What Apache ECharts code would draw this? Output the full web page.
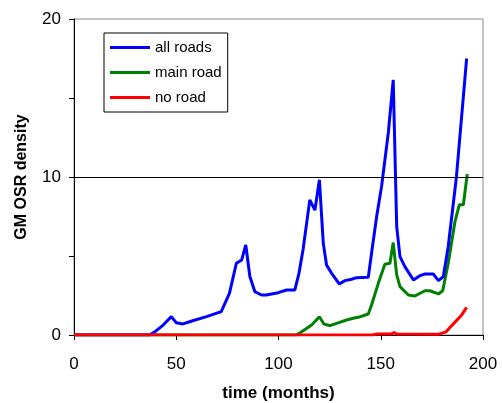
<!DOCTYPE html>
<html>
<head>
<meta charset="utf-8">
<script src="https://cdn.jsdelivr.net/npm/echarts@6/dist/echarts.min.js"></script>
<style>
  html, body { margin: 0; padding: 0; background: #fff; }
  #chart { width: 502px; height: 403px; }
</style>
</head>
<body>
<div id="chart"></div>
<script>
// values (months, density)
const allRoadsT = [0, 37, 39.5, 43.6, 47.6, 50, 53.3, 58, 64.8, 72, 76, 79.4, 82, 84, 86, 88.4, 91.7, 94, 99.8, 104, 108, 110, 112, 115.3, 117.8, 120, 121.9, 123.5, 126, 129.7, 132.5, 135.7, 138.2, 143.9, 145.5, 148, 150.4, 153.7, 156.1, 157.8, 159.4, 161.8, 166, 168.9, 171.6, 175.7, 178.2, 180.6, 183, 187, 192]
const allRoadsV = [0, 0, 0.2, 0.63, 1.16, 0.78, 0.7, 0.9, 1.16, 1.48, 2.64, 4.54, 4.75, 5.7, 3.7, 2.75, 2.53, 2.53, 2.68, 2.85, 2.85, 3.9, 5.4, 8.55, 7.9, 9.82, 5.8, 4.43, 3.9, 3.23, 3.44, 3.53, 3.63, 3.65, 5.17, 7.5, 9.4, 12.8, 16.15, 6.86, 4.96, 4.33, 3.48, 3.74, 3.86, 3.86, 3.44, 3.7, 5.6, 10, 17.5]

const mainRoadT = [0, 108.8, 111.3, 116.2, 120, 122.2, 125.1, 128.4, 133.3, 136.5, 139, 143.9, 145.5, 148.8, 152, 154.5, 156.1, 157.8, 159.4, 163.5, 166.7, 171.6, 174, 178.2, 180.3, 183, 186.3, 188.4, 190.4, 192.3]
const mainRoadV = [0, 0, 0.2, 0.63, 1.16, 0.7, 0.59, 0.74, 0.95, 1.06, 1.12, 1.33, 1.9, 3.27, 4.48, 4.54, 5.85, 3.8, 3.06, 2.53, 2.47, 2.8, 2.8, 2.6, 2.8, 4.54, 7.18, 8.24, 8.24, 10.18]

const noRoadT = [0, 146, 148, 155, 156.5, 158, 178, 182, 184, 189.6, 192]
const noRoadV = [0, 0, 0.06, 0.06, 0.15, 0.06, 0.04, 0.2, 0.5, 1.27, 1.75]

const seriesNames = ['all roads', 'main road', 'no road']
const seriesColors = ['#0000ff', '#008000', '#ff0000']

const pairs = (t, v) => t.map((x, i) => [x, v[i]])

const chart = echarts.init(document.getElementById('chart'))

const font = 'Liberation Sans, Arial, sans-serif'

chart.setOption({
  animation: false,
  backgroundColor: '#fff',
  textStyle: { fontFamily: font },
  grid: {
    left: 74, right: 19, top: 19, bottom: 68,
    containLabel: false,
    outerBoundsMode: 'none',
    show: true, borderColor: '#888', borderWidth: 1
  },
  legend: {
    data: seriesNames,
    orient: 'vertical',
    left: 104, top: 33,
    backgroundColor: '#fff',
    borderColor: '#000',
    borderWidth: 1,
    borderRadius: 0,
    padding: [7, 6, 7, 6],
    itemGap: 10,
    itemWidth: 40,
    itemHeight: 3,
    icon: 'rect',
    textStyle: { fontSize: 15, color: '#000', fontFamily: font }
  },
  xAxis: {
    type: 'value',
    min: 0, max: 200, interval: 50,
    name: 'time (months)',
    nameLocation: 'middle',
    nameGap: 50,
    nameTextStyle: { fontSize: 17, fontWeight: 'bold', color: '#000', fontFamily: font },
    axisLine: { lineStyle: { color: '#000', width: 1 } },
    axisTick: { show: true, length: 5, lineStyle: { color: '#000' } },
    axisLabel: { fontSize: 17, color: '#000', margin: 21, fontFamily: font },
    splitLine: { show: false }
  },
  yAxis: {
    type: 'value',
    min: 0, max: 20, interval: 10,
    name: 'GM OSR density',
    nameLocation: 'middle',
    nameGap: 44,
    nameTextStyle: { fontSize: 16, fontWeight: 'bold', color: '#000', fontFamily: font },
    axisLine: { show: true, lineStyle: { color: '#000', width: 1 } },
    axisTick: { show: true, length: 5, lineStyle: { color: '#000' } },
    minorTick: { show: true, splitNumber: 2, length: 5, lineStyle: { color: '#000' } },
    axisLabel: { fontSize: 17, color: '#000', margin: 13, fontFamily: font },
    splitLine: { show: false }
  },
  series: [
    {
      // gridline at 10
      type: 'line',
      data: [],
      z: 1,
      silent: true,
      markLine: {
        silent: true,
        symbol: 'none',
        label: { show: false },
        lineStyle: { color: '#000', width: 1, type: 'solid' },
        data: [{ yAxis: 10 }]
      }
    },
    {
      name: seriesNames[0], type: 'line', data: pairs(allRoadsT, allRoadsV),
      showSymbol: false, symbol: 'none', z: 4,
      color: seriesColors[0], lineStyle: { width: 3, color: seriesColors[0] }
    },
    {
      name: seriesNames[1], type: 'line', data: pairs(mainRoadT, mainRoadV),
      showSymbol: false, symbol: 'none', z: 3,
      color: seriesColors[1], lineStyle: { width: 3, color: seriesColors[1] }
    },
    {
      name: seriesNames[2], type: 'line', data: pairs(noRoadT, noRoadV),
      showSymbol: false, symbol: 'none', z: 5,
      color: seriesColors[2], lineStyle: { width: 3, color: seriesColors[2] }
    }
  ]
})
</script>
</body>
</html>
